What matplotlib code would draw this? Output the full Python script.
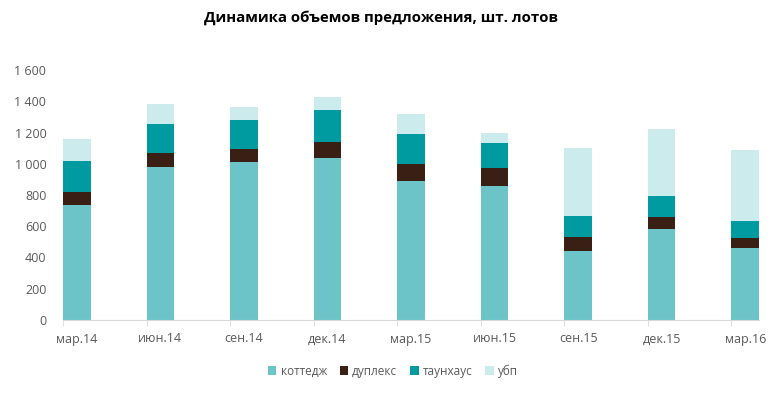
import matplotlib
matplotlib.use("Agg")
import matplotlib.pyplot as plt
import numpy as np
from matplotlib.ticker import FuncFormatter, FixedLocator

categories = ["мар.14", "июн.14", "сен.14", "дек.14", "мар.15", "июн.15", "сен.15", "дек.15", "мар.16"]
cottage = [736, 979, 1011, 1037, 890, 858, 442, 582, 461]
duplex = [83, 90, 83, 102, 108, 115, 89, 77, 64]
townhouse = [199, 185, 186, 205, 192, 160, 135, 135, 109]
ubp = [140, 128, 83, 83, 128, 64, 435, 428, 454]
series_names = ["коттедж", "дуплекс", "таунхаус", "убп"]
colors = ["#6CC4C9", "#3A1F14", "#009AA1", "#CCEBED"]

plt.rcParams['font.family'] = ['Open Sans', 'DejaVu Sans']

fig = plt.figure(figsize=(7.82, 3.97), dpi=100)
ax = fig.add_axes([63/782, 77/397, 696/782, 250/397])

x = np.arange(len(categories))
w = 0.33
bottom = np.zeros(len(categories))
for vals, name, c in zip([cottage, duplex, townhouse, ubp], series_names, colors):
    ax.bar(x, vals, w, bottom=bottom, color=c, label=name, zorder=2)
    bottom += np.array(vals)

ax.set_xlim(-w/2, len(categories) - 1 + w/2)
ax.set_ylim(0, 1600)
ax.set_yticks(np.arange(0, 1601, 200))
ax.yaxis.set_major_formatter(FuncFormatter(lambda v, p: f"{int(v):,}".replace(",", " ")))
ax.set_xticks(x)
ax.set_xticklabels(categories)
ax.xaxis.set_minor_locator(FixedLocator(x - w/2))
ax.tick_params(axis='x', which='major', length=0, pad=9, labelsize=9, labelcolor="#595959")
ax.tick_params(axis='x', which='minor', length=4, color="#D9D9D9", direction='out')
ax.tick_params(axis='y', length=0, pad=12, labelsize=9, labelcolor="#595959")
for s in ['top', 'right', 'left']:
    ax.spines[s].set_visible(False)
ax.spines['bottom'].set_color("#D9D9D9")

fig.text(381/782, 1 - 18/397, "Динамика объемов предложения, шт. лотов", ha='center', va='center',
         fontsize=10.8, fontweight='bold', color="#000000")

handles, labels = ax.get_legend_handles_labels()
fig.legend(handles, labels, loc='center', bbox_to_anchor=(393/782, 1 - 371/397), ncol=4,
           frameon=False, fontsize=8.5, labelcolor="#595959", handlelength=0.7, handleheight=0.7,
           handletextpad=0.35, columnspacing=1.1)

fig.savefig("out.png", dpi=100)
